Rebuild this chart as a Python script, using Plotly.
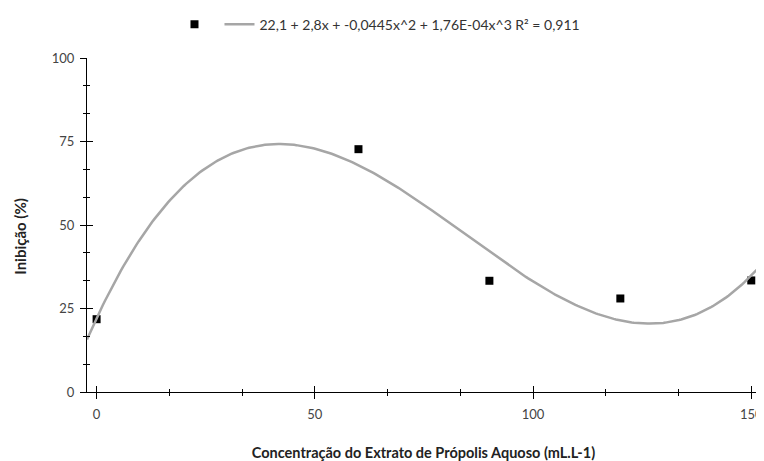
import numpy as np
import plotly.graph_objects as go

# Data
conc = [0, 60, 90, 120, 150]
inhib = [21.8, 72.7, 33.3, 28.0, 33.4]

# Trendline coefficients as printed in the legend
coef = [22.1, 2.8, -0.0445, 1.76e-4]
r2_label = "0,911"
legend_text = "22,1 + 2,8x + -0,0445x^2 + 1,76E-04x^3 R² = " + r2_label

x_range = [-2.2, 152]
y_range = [0, 100]
x_ticks = [0, 50, 100, 150]
y_ticks = [0, 25, 50, 75, 100]

xs = np.linspace(x_range[0], x_range[1], 300)
ys = coef[0] + coef[1] * xs + coef[2] * xs**2 + coef[3] * xs**3

FONT = "Lato"

fig = go.Figure()
fig.add_trace(go.Scatter(
    x=conc, y=inhib, mode="markers", name="",
    marker=dict(symbol="square", size=8, color="black"),
    cliponaxis=False,
))
fig.add_trace(go.Scatter(
    x=xs, y=ys, mode="lines", name=legend_text,
    line=dict(color="#a6a6a6", width=2.5),
))

common_axis = dict(showgrid=False, zeroline=False, linecolor="black", linewidth=1.2,
                   tickcolor="black", tickwidth=1.2, automargin=False,
                   tickfont=dict(size=13, color="#444444"))

# page body has an 8px margin, so the figure is sized to fit the window
fig.update_layout(
    width=756, height=453,
    margin=dict(l=79, r=4, t=50, b=69, autoexpand=False),
    paper_bgcolor="white", plot_bgcolor="white",
    font=dict(family=FONT, size=12, color="#333333"),
    showlegend=True,
    legend=dict(orientation="h", x=0.13, xanchor="left", y=0.963, yanchor="middle",
                xref="paper", yref="container", font=dict(size=14, color="#333333"),
                itemwidth=30),
    xaxis=dict(range=x_range, tickvals=x_ticks, ticks="outside", ticklen=6,
               showline=True, ticklabelstandoff=4,
               minor=dict(ticks="outside", ticklen=3, tick0=0, dtick=50/3,
                          tickcolor="black", tickwidth=1),
               title=dict(text="<b>Concentração do Extrato de Própolis Aquoso (mL.L-1)</b>",
                          font=dict(size=14.5, color="#222222"), standoff=27),
               **common_axis),
    yaxis=dict(range=y_range, tickvals=y_ticks, ticks="outside", ticklen=6,
               showline=True, ticklabelstandoff=3,
               minor=dict(ticks="outside", ticklen=3, tick0=0, dtick=25/3,
                          tickcolor="black", tickwidth=1),
               **common_axis),
    xaxis2=dict(matches="x", overlaying="x", range=x_range, tickvals=x_ticks,
                ticks="inside", ticklen=6, showticklabels=False, showline=False,
                side="bottom", anchor="y", automargin=False,
                minor=dict(ticks="inside", ticklen=3, tick0=0, dtick=50/3,
                           tickcolor="black", tickwidth=1),
                showgrid=False, zeroline=False, tickcolor="black", tickwidth=1.2),
    yaxis2=dict(matches="y", overlaying="y", range=y_range, tickvals=y_ticks,
                ticks="inside", ticklen=6, showticklabels=False, showline=False,
                side="left", anchor="x", automargin=False,
                minor=dict(ticks="inside", ticklen=3, tick0=0, dtick=25/3,
                           tickcolor="black", tickwidth=1),
                showgrid=False, zeroline=False, tickcolor="black", tickwidth=1.2),
)

# y-axis title (placed slightly below the plot centre, as in the reference)
fig.add_annotation(text="<b>Inibição (%)</b>", textangle=-90, showarrow=False,
                   xref="paper", yref="paper", x=0, y=0.465, xanchor="center",
                   yanchor="middle", xshift=-67,
                   font=dict(family=FONT, size=15, color="#222222"))

# invisible trace to make overlay axes render
fig.add_trace(go.Scatter(x=[conc[0]], y=[inhib[0]], xaxis="x2", yaxis="y2",
                         mode="markers", marker=dict(opacity=0), showlegend=False,
                         hoverinfo="skip"))

fig.write_html("out.html")
